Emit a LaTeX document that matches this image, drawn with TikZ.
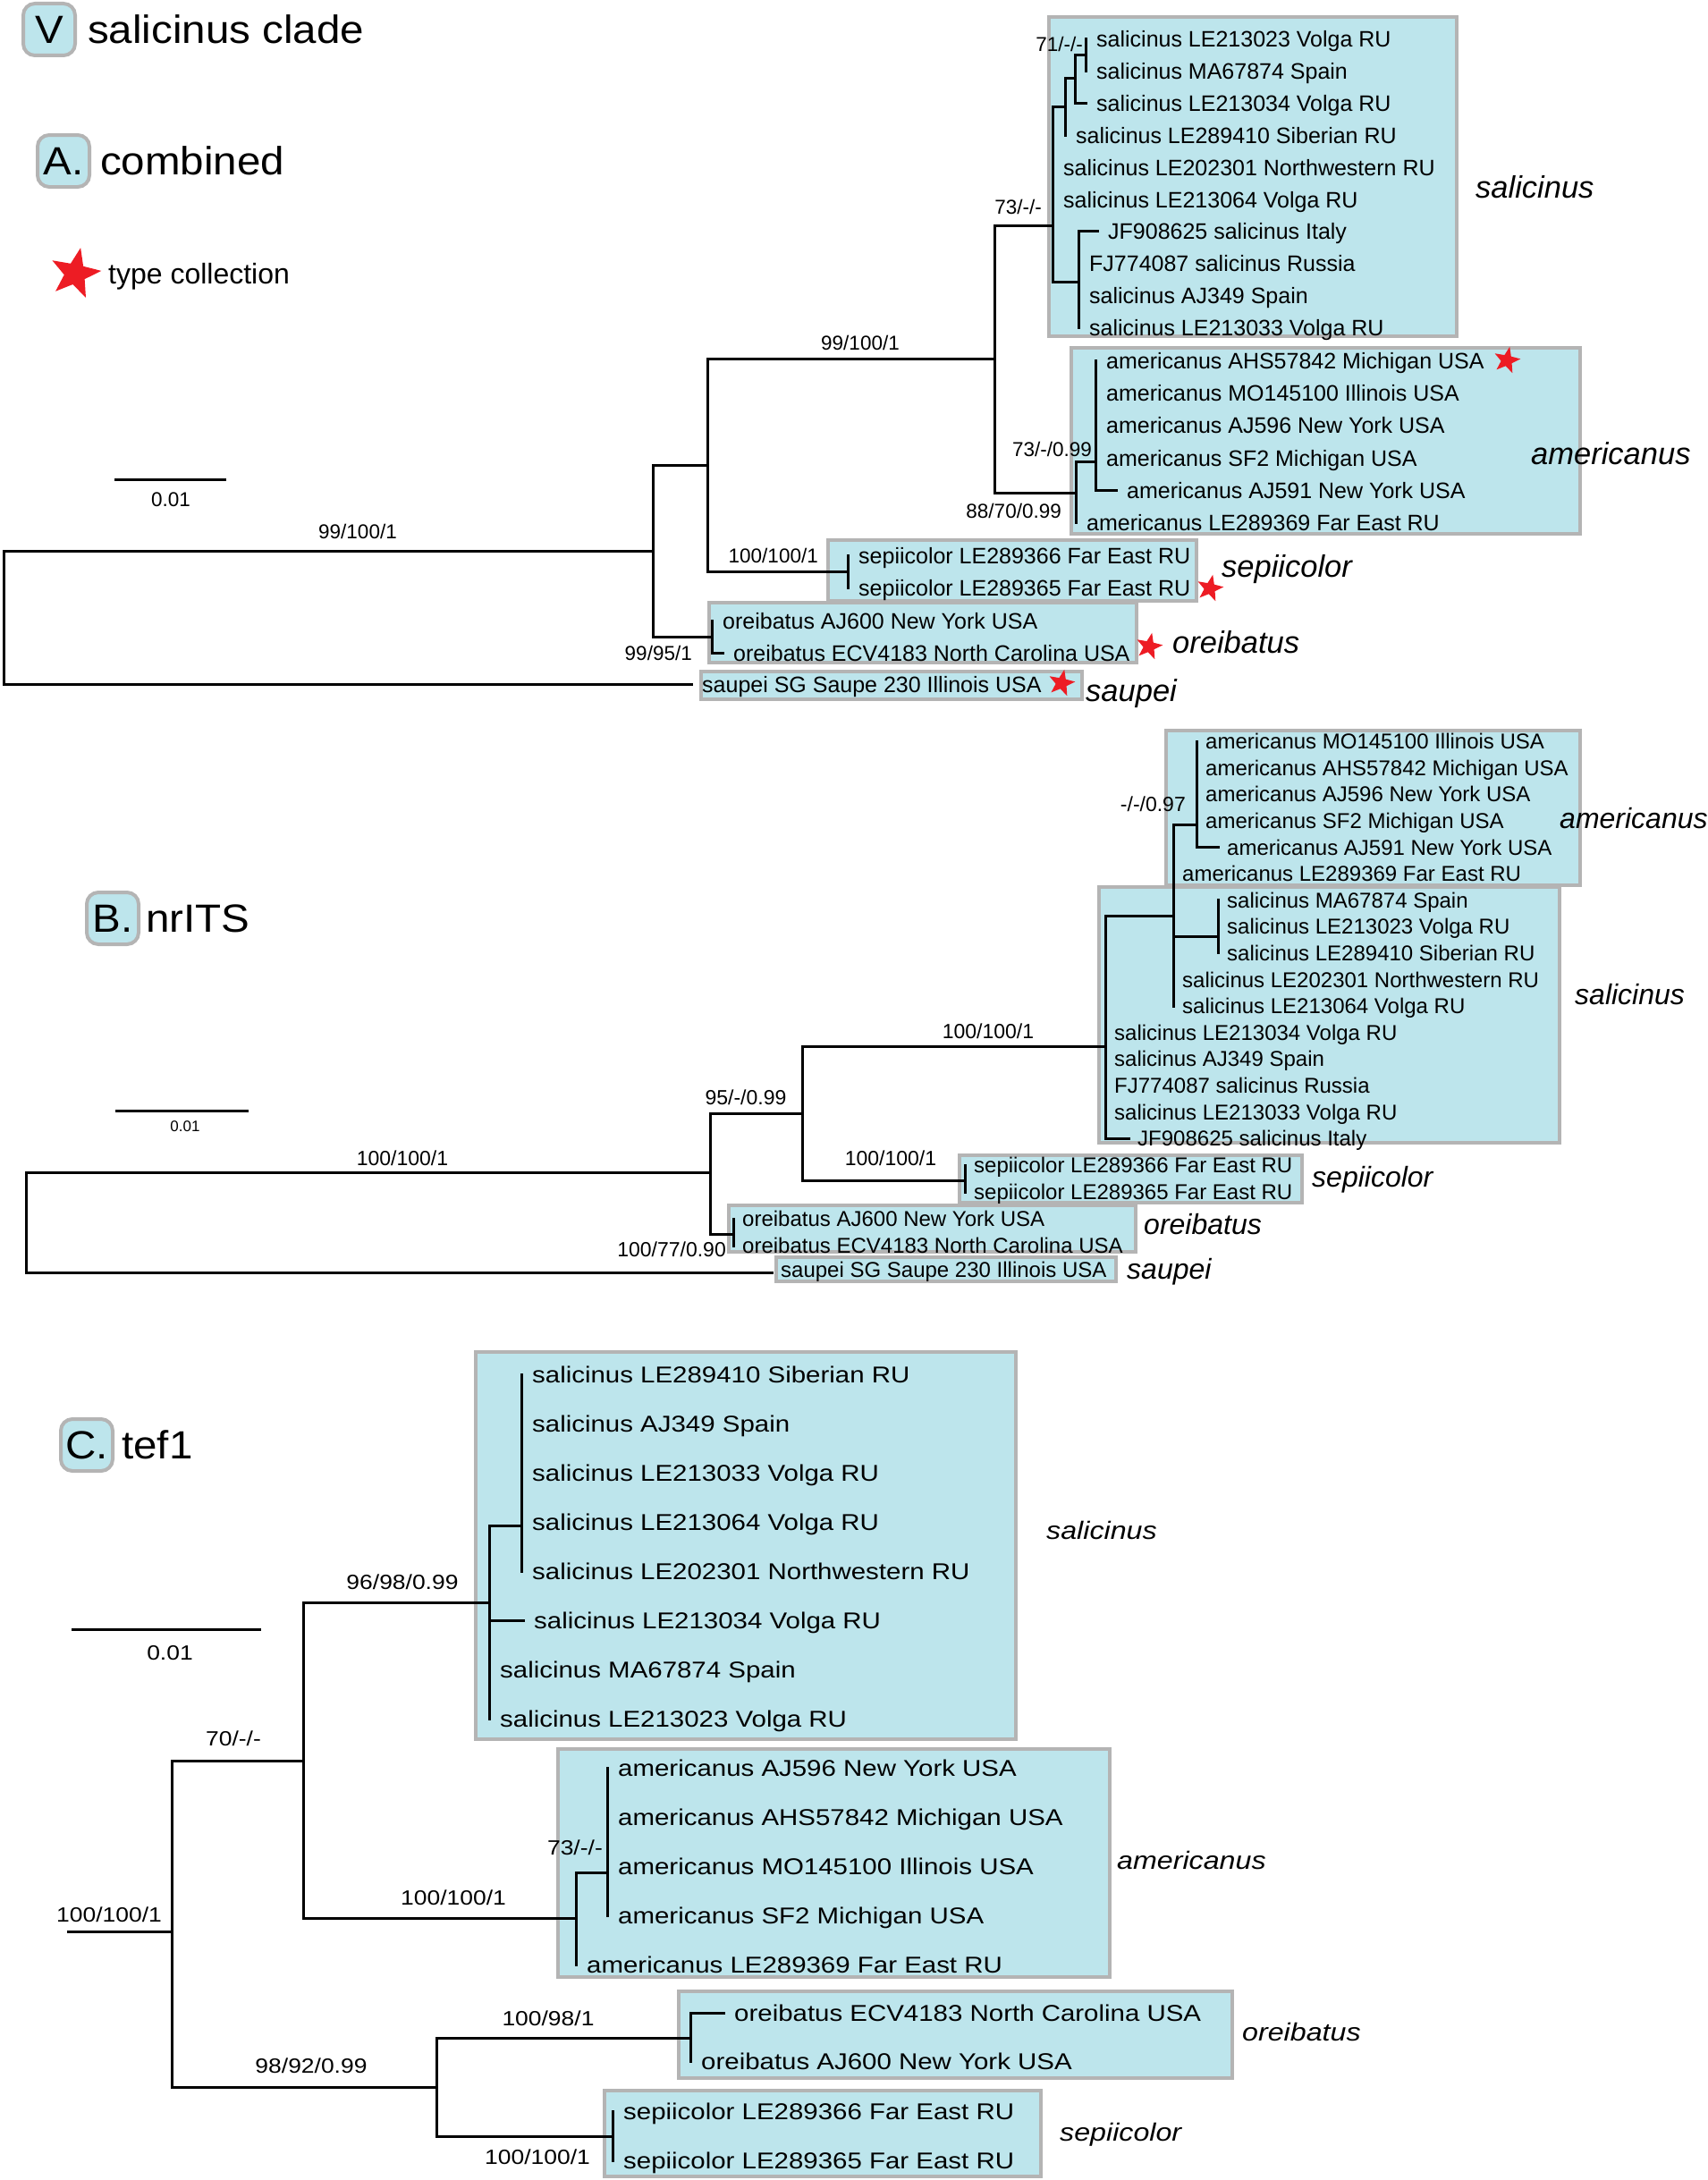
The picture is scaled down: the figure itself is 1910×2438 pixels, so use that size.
\documentclass[tikz,border=0pt]{standalone}
\usepackage{fontspec}
\setmainfont{Liberation Sans}
\newfontfamily\wideC[FakeStretch=1.15]{Liberation Sans}
\newfontfamily\wideH[FakeStretch=1.08]{Liberation Sans}
\usetikzlibrary{shapes.geometric,positioning}
\definecolor{cladefill}{RGB}{189,229,236}
\definecolor{cladeedge}{RGB}{180,180,180}
\definecolor{typered}{RGB}{237,28,36}
\tikzset{
  br/.style={line width=3pt, line cap=rect},
  cladebox/.style={fill=cladefill, draw=cladeedge, line width=3.5pt},
  badge/.style={rectangle, rounded corners=13pt, fill=cladefill, draw=cladeedge, line width=4pt, minimum width=58pt, minimum height=58pt, inner sep=0pt, font=\wideH\fontsize{44}{50}\selectfont},
  title/.style={anchor=west, inner sep=0pt, text height=31.7pt, text depth=0pt, font=\wideH\fontsize{44}{50}\selectfont},
  typestar/.style={star, star points=5, star point ratio=2.4, fill=typered, inner sep=0pt, minimum size=31pt, shape border rotate=-12},
  tipA/.style={anchor=west, inner xsep=12pt, inner ysep=0pt, text height=18pt, text depth=0pt, font=\fontsize{25}{30}\selectfont},
  tipB/.style={tipA, inner xsep=10pt, text height=17.3pt, font=\fontsize{24}{29}\selectfont},
  tipC/.style={tipA, text height=18.4pt, font=\wideC\fontsize{25.6}{30}\selectfont},
  supA/.style={inner sep=0pt, text height=16.2pt, text depth=0pt, font=\fontsize{22.5}{27}\selectfont},
  supB/.style={supA, text height=16.6pt, font=\fontsize{23}{28}\selectfont},
  supC/.style={supA, text height=16.6pt, font=\wideC\fontsize{23}{28}\selectfont},
  cladeA/.style={anchor=west, inner sep=0pt, text height=24.8pt, text depth=0pt, font=\itshape\fontsize{34.5}{40}\selectfont},
  cladeB/.style={cladeA, text height=23pt, font=\itshape\fontsize{32}{38}\selectfont},
  cladeC/.style={cladeA, text height=20pt, font=\wideC\itshape\fontsize{28}{34}\selectfont},
}

\begin{document}
\begin{tikzpicture}[x=1pt, y=-1pt]
\useasboundingbox (0,0) rectangle (1910,2438);

\node[badge] (bV) at (55,33) {V};
\node[title, right=12pt of bV] (tV) {salicinus clade};
\node[badge] (bA) at (71,180) {A.};
\node[title, right=10pt of bA] (tA) {combined};
\node[typestar, minimum size=59pt] (key) at (84,306) {};
\node[anchor=west, inner sep=0pt, text height=23pt, text depth=0pt, font=\fontsize{32}{38}\selectfont] (keytext) at (121,306) {type collection};

\draw[cladebox] (1173,19) rectangle (1629,376);
\draw[cladebox] (1198,389) rectangle (1767,597);
\draw[cladebox] (926,604) rectangle (1338,672);
\draw[cladebox] (793,674) rectangle (1271,741);
\draw[cladebox] (784,751) rectangle (1210,782);

\node[tipA] (aSalT1) at (1214,43.5) {salicinus LE213023 Volga RU};
\node[tipA] (aSalT2) at (1214,79.4) {salicinus MA67874 Spain};
\node[tipA] (aSalT3) at (1214,115.3) {salicinus LE213034 Volga RU};
\node[tipA] (aSalT4) at (1191,151.2) {salicinus LE289410 Siberian RU};
\node[tipA] (aSalT5) at (1177,187.1) {salicinus LE202301 Northwestern RU};
\node[tipA] (aSalT6) at (1177,223) {salicinus LE213064 Volga RU};
\node[tipA] (aSalT7) at (1227,258.9) {JF908625 salicinus Italy};
\node[tipA] (aSalT8) at (1206,294.8) {FJ774087 salicinus Russia};
\node[tipA] (aSalT9) at (1206,330.7) {salicinus AJ349 Spain};
\node[tipA] (aSalT10) at (1206,366.6) {salicinus LE213033 Volga RU};
\node[tipA] (aAmT1) at (1225,403.5) {americanus AHS57842 Michigan USA};
\node[tipA] (aAmT2) at (1225,439.7) {americanus MO145100 Illinois USA};
\node[tipA] (aAmT3) at (1225,475.9) {americanus AJ596 New York USA};
\node[tipA] (aAmT4) at (1225,512.1) {americanus SF2 Michigan USA};
\node[tipA] (aAmT5) at (1248,548.3) {americanus AJ591 New York USA};
\node[tipA] (aAmT6) at (1203,584.5) {americanus LE289369 Far East RU};
\node[tipA] (aSepT1) at (948,621) {sepiicolor LE289366 Far East RU};
\node[tipA] (aSepT2) at (948,657) {sepiicolor LE289365 Far East RU};
\node[tipA] (aOreT1) at (796,694) {oreibatus AJ600 New York USA};
\node[tipA] (aOreT2) at (808,730) {oreibatus ECV4183 North Carolina USA};
\node[tipA] (aSauT) at (773,765) {saupei SG Saupe 230 Illinois USA};

\coordinate (a71) at (1214,61.5);
\coordinate (aS2) at (1202,88);
\coordinate (aS1) at (1191,120);
\coordinate (aS3) at (1206,315);
\coordinate (aSal) at (1177,252);
\coordinate (a73) at (1112,401);
\coordinate (aAmN1) at (1225,516);
\coordinate (aAmN) at (1203,551);
\coordinate (aSep) at (948,639);
\coordinate (aOre) at (796,712);
\coordinate (a99) at (791,520);
\coordinate (a95) at (730,616);
\coordinate (aRoot) at (4,690);

\draw[br] (aSalT1.west) -- (a71) -- (aSalT2.west);
\draw[br] (a71) -| (aS2) |- (aSalT3.west);
\draw[br] (aS2) -| (aS1) |- (aSalT4.west);
\draw[br] (aS1) -| (aSal) |- (aS3);
\draw[br] (aSalT7.west) -| (aS3) |- (aSalT10.west);
\draw[br] (aSal) -| (a73) |- (aAmN);
\draw[br] (aAmT1.west) -- (aAmN1 |- aAmT5.west) -- (aAmT5.west);
\draw[br] (aAmN1) -| (aAmN) |- (aAmT6.west);
\draw[br] (a73) -| (a99) |- (aSep);
\draw[br] (aSepT1.west) -- (aSepT2.west);
\draw[br] (a99) -| (a95) |- (aOre);
\draw[br] (aOreT1.west) -- (aOre |- aOreT2.west) -- (aOreT2.west);
\draw[br] (a95) -| (aRoot) |- (aSauT.west);

\node[supA, anchor=east] (sA1) at (1211,49) {71/-/-};
\node[supA, anchor=east] (sA2) at (1165,231) {73/-/-};
\node[supA] (sA3) at (962,383) {99/100/1};
\node[supA, anchor=east] (sA4) at (1221,502) {73/-/0.99};
\node[supA, anchor=east] (sA5) at (1187,571) {88/70/0.99};
\node[supA] (sA6) at (400,594) {99/100/1};
\node[supA, anchor=east] (sA7) at (915,621) {100/100/1};
\node[supA, anchor=east] (sA8) at (774,730) {99/95/1};

\node[typestar] (starA1) at (1685,403) {};
\node[typestar] (starA2) at (1353,658) {};
\node[typestar] (starA3) at (1285,723) {};
\node[typestar] (starA4) at (1187,764) {};

\node[cladeA] (cA1) at (1650,209) {salicinus};
\node[cladeA] (cA2) at (1712,507) {americanus};
\node[cladeA] (cA3) at (1366,633) {sepiicolor};
\node[cladeA] (cA4) at (1311,718) {oreibatus};
\node[cladeA] (cA5) at (1214,772) {saupei};

\coordinate (sbA1) at (128,536);
\coordinate (sbA2) at (253,536);
\draw[br, line cap=butt] (sbA1) -- (sbA2);
\node[supA] (sbAt) at (191,558) {0.01};

\node[badge] (bB) at (126,1027) {B.};
\node[title, right=6pt of bB] (tB) {nrITS};

\draw[cladebox] (1304,817) rectangle (1767,990);
\draw[cladebox] (1229,992) rectangle (1744,1278);
\draw[cladebox] (1073,1292) rectangle (1456,1345);
\draw[cladebox] (815,1348) rectangle (1270,1400);
\draw[cladebox] (868,1406) rectangle (1248,1433);

\node[tipB] (bAmT1) at (1338,829) {americanus MO145100 Illinois USA};
\node[tipB] (bAmT2) at (1338,858.6) {americanus AHS57842 Michigan USA};
\node[tipB] (bAmT3) at (1338,888.2) {americanus AJ596 New York USA};
\node[tipB] (bAmT4) at (1338,917.8) {americanus SF2 Michigan USA};
\node[tipB] (bAmT5) at (1362,947.4) {americanus AJ591 New York USA};
\node[tipB] (bAmT6) at (1312,977) {americanus LE289369 Far East RU};
\node[tipB] (bSalT1) at (1362,1006.6) {salicinus MA67874 Spain};
\node[tipB] (bSalT2) at (1362,1036.2) {salicinus LE213023 Volga RU};
\node[tipB] (bSalT3) at (1362,1065.8) {salicinus LE289410 Siberian RU};
\node[tipB] (bSalT4) at (1312,1095.4) {salicinus LE202301 Northwestern RU};
\node[tipB] (bSalT5) at (1312,1125) {salicinus LE213064 Volga RU};
\node[tipB] (bSalT6) at (1236,1154.6) {salicinus LE213034 Volga RU};
\node[tipB] (bSalT7) at (1236,1184.2) {salicinus AJ349 Spain};
\node[tipB] (bSalT8) at (1236,1213.8) {FJ774087 salicinus Russia};
\node[tipB] (bSalT9) at (1236,1243.4) {salicinus LE213033 Volga RU};
\node[tipB] (bSalT10) at (1262,1273) {JF908625 salicinus Italy};
\node[tipB] (bSepT1) at (1079,1303) {sepiicolor LE289366 Far East RU};
\node[tipB] (bSepT2) at (1079,1333) {sepiicolor LE289365 Far East RU};
\node[tipB] (bOreT1) at (820,1363) {oreibatus AJ600 New York USA};
\node[tipB] (bOreT2) at (820,1393) {oreibatus ECV4183 North Carolina USA};
\node[tipB] (bSauT) at (863,1420) {saupei SG Saupe 230 Illinois USA};

\coordinate (bAmN1) at (1338,922);
\coordinate (bN5) at (1312,1024);
\coordinate (bSalN) at (1362,1047);
\coordinate (bN4) at (1236,1170);
\coordinate (bN3) at (897,1245);
\coordinate (bSepN) at (1079,1320);
\coordinate (bN2) at (794,1311);
\coordinate (bOreN) at (820,1380);
\coordinate (bRoot) at (29,1367);

\draw[br] (bAmT1.west) -- (bAmN1 |- bAmT5.west) -- (bAmT5.west);
\draw[br] (bAmN1) -| (bN5) |- (bSalT5.west);
\draw[br] (bN5 |- bSalN) -- (bSalN);
\draw[br] (bSalT1.west) -- (bSalT3.west);
\draw[br] (bN5) -| (bN4) |- (bSalT10.west);
\draw[br] (bN4) -| (bN3) |- (bSepN);
\draw[br] (bSepT1.west) -- (bSepT2.west);
\draw[br] (bN3) -| (bN2) |- (bOreN);
\draw[br] (bOreT1.west) -- (bOreT2.west);
\draw[br] (bN2) -| (bRoot) |- (bSauT.west |- 0,1423);

\node[supB, anchor=east] (sB1) at (1326,899) {-/-/0.97};
\node[supB] (sB2) at (1105,1153) {100/100/1};
\node[supB] (sB3) at (834,1227) {95/-/0.99};
\node[supB] (sB4) at (996,1295) {100/100/1};
\node[supB] (sB5) at (450,1295) {100/100/1};
\node[supB, anchor=east] (sB6) at (812,1397) {100/77/0.90};

\node[cladeB] (cB1) at (1744,915) {americanus};
\node[cladeB] (cB2) at (1761,1112) {salicinus};
\node[cladeB] (cB3) at (1467,1316) {sepiicolor};
\node[cladeB] (cB4) at (1279,1369) {oreibatus};
\node[cladeB] (cB5) at (1260,1419) {saupei};

\coordinate (sbB1) at (129,1242);
\coordinate (sbB2) at (278,1242);
\draw[br, line cap=butt] (sbB1) -- (sbB2);
\node[supB, text height=12.2pt, font=\fontsize{17}{20}\selectfont] (sbBt) at (207,1259) {0.01};

\node[badge] (bC) at (97,1616) {C.};
\node[title, right=8pt of bC] (tC) {tef1};

\draw[cladebox] (532,1512) rectangle (1136,1945);
\draw[cladebox] (624,1956) rectangle (1241,2211);
\draw[cladebox] (759,2227) rectangle (1378,2324);
\draw[cladebox] (676,2338) rectangle (1164,2434);

\node[tipC] (cSalT1) at (583,1537) {salicinus LE289410 Siberian RU};
\node[tipC] (cSalT2) at (583,1592) {salicinus AJ349 Spain};
\node[tipC] (cSalT3) at (583,1647) {salicinus LE213033 Volga RU};
\node[tipC] (cSalT4) at (583,1702) {salicinus LE213064 Volga RU};
\node[tipC] (cSalT5) at (583,1757) {salicinus LE202301 Northwestern RU};
\node[tipC] (cSalT6) at (585,1812) {salicinus LE213034 Volga RU};
\node[tipC] (cSalT7) at (547,1867) {salicinus MA67874 Spain};
\node[tipC] (cSalT8) at (547,1922) {salicinus LE213023 Volga RU};
\node[tipC] (cAmT1) at (679,1977) {americanus AJ596 New York USA};
\node[tipC] (cAmT2) at (679,2032) {americanus AHS57842 Michigan USA};
\node[tipC] (cAmT3) at (679,2087) {americanus MO145100 Illinois USA};
\node[tipC] (cAmT4) at (679,2142) {americanus SF2 Michigan USA};
\node[tipC] (cAmT5) at (644,2197) {americanus LE289369 Far East RU};
\node[tipC] (cOreT1) at (809,2251) {oreibatus ECV4183 North Carolina USA};
\node[tipC] (cOreT2) at (772,2305) {oreibatus AJ600 New York USA};
\node[tipC] (cSepT1) at (685,2361) {sepiicolor LE289366 Far East RU};
\node[tipC] (cSepT2) at (685,2416) {sepiicolor LE289365 Far East RU};

\coordinate (cSalN1) at (583,1706);
\coordinate (cSalN) at (547,1792);
\coordinate (cAmN1) at (679,2094);
\coordinate (cAmN) at (644,2145);
\coordinate (cN2) at (339,1969);
\coordinate (cOreN) at (772,2279);
\coordinate (cSepN) at (685,2389);
\coordinate (cN3) at (488,2334);
\coordinate (cN1) at (192,2160);
\coordinate (cRoot) at (76,2160);

\draw[br] (cSalT1.west) -- (cSalT5.west);
\draw[br] (cSalN1) -| (cSalN) |- (cSalT8.west);
\draw[br] (cSalN |- cSalT6.west) -- (cSalT6.west);
\draw[br] (cSalN) -| (cN2) |- (cAmN);
\draw[br] (cAmT1.west) -- (cAmT4.west);
\draw[br] (cAmN1) -| (cAmN) |- (cAmT5.west);
\draw[br] (cN2) -| (cN1) |- (cN3);
\draw[br] (cRoot) -- (cN1);
\draw[br] (cOreN) -| (cN3) |- (cSepN);
\draw[br] (cOreT1.west) -| (cOreN) |- (cOreT2.west);
\draw[br] (cSepT1.west) -- (cSepT2.west);

\node[supC] (sC1) at (450,1769) {96/98/0.99};
\node[supC] (sC2) at (261,1944) {70/-/-};
\node[supC] (sC3) at (507,2122) {100/100/1};
\node[supC, anchor=east] (sC4) at (674,2066) {73/-/-};
\node[supC] (sC5) at (122,2141) {100/100/1};
\node[supC] (sC6) at (348,2310) {98/92/0.99};
\node[supC] (sC7) at (613,2257) {100/98/1};
\node[supC] (sC8) at (601,2412) {100/100/1};

\node[cladeC] (cC1) at (1170,1711) {salicinus};
\node[cladeC] (cC2) at (1249,2080) {americanus};
\node[cladeC] (cC3) at (1389,2272) {oreibatus};
\node[cladeC] (cC4) at (1185,2384) {sepiicolor};

\coordinate (sbC1) at (80,1822);
\coordinate (sbC2) at (292,1822);
\draw[br, line cap=butt] (sbC1) -- (sbC2);
\node[supC] (sbCt) at (190,1848) {0.01};
\end{tikzpicture}
\end{document}
